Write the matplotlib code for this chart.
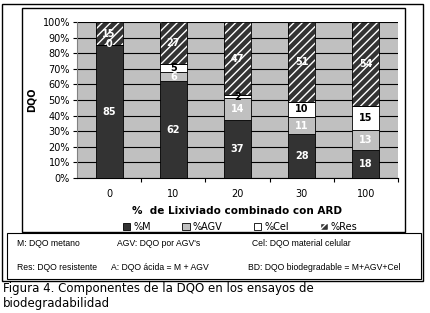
import matplotlib
matplotlib.use("Agg")
import matplotlib.pyplot as plt
import matplotlib.patches as mpatches
from matplotlib.patches import Rectangle

# data
cats = ["0", "10", "20", "30", "100"]
pct_m = [85, 62, 37, 28, 18]
pct_agv = [0, 6, 14, 11, 13]
pct_cel = [0, 5, 2, 10, 15]
pct_res = [15, 27, 47, 51, 54]
series_names = ["%M", "%AGV", "%Cel", "%Res"]
yticks = [0, 10, 20, 30, 40, 50, 60, 70, 80, 90, 100]

notes_row1 = ["M: DQO metano", "AGV: DQO por AGV's", "Cel: DQO material celular"]
notes_row2 = ["Res: DQO resistente", "A: DQO ácida = M + AGV", "BD: DQO biodegradable = M+AGV+Cel"]
caption = "Figura 4. Componentes de la DQO en los ensayos de\nbiodegradabilidad"

W, H = 430, 313
fig = plt.figure(figsize=(W / 100, H / 100), dpi=100)
plt.rcParams["font.family"] = "DejaVu Sans"

def fx(px):
    return px / W

def fy(py):
    return 1 - py / H

# frames
fig.patches.append(Rectangle((fx(2), fy(281)), fx(421), 277 / H,
                             transform=fig.transFigure, fill=False, ec="black", lw=1))
fig.patches.append(Rectangle((fx(22), fy(232)), fx(383), 224 / H,
                             transform=fig.transFigure, fill=False, ec="black", lw=1))
fig.patches.append(Rectangle((fx(7), fy(279)), fx(414), 46 / H,
                             transform=fig.transFigure, fill=False, ec="black", lw=0.8))

ax = fig.add_axes([fx(77), fy(178), fx(321), (178 - 22) / H])
ax.set_facecolor("#c0c0c0")
x = range(len(cats))
bw = 0.42

bottom = [0] * len(cats)
ax.bar(x, pct_m, bw, color="#333333", edgecolor="black", lw=0.6, zorder=3, label=series_names[0])
bottom = [b + v for b, v in zip(bottom, pct_m)]
ax.bar(x, pct_agv, bw, bottom=bottom, color="#c0c0c0", edgecolor="black", lw=0.6, zorder=3, label=series_names[1])
b_agv = bottom[:]
bottom = [b + v for b, v in zip(bottom, pct_agv)]
ax.bar(x, pct_cel, bw, bottom=bottom, color="white", edgecolor="black", lw=0.6, zorder=3, label=series_names[2])
b_cel = bottom[:]
bottom = [b + v for b, v in zip(bottom, pct_cel)]
ax.bar(x, pct_res, bw, bottom=bottom, color="#333333", edgecolor="white", hatch="////", lw=0, zorder=3)
ax.bar(x, pct_res, bw, bottom=bottom, fill=False, edgecolor="black", lw=0.6, zorder=4)
b_res = bottom[:]

handles, labels = ax.get_legend_handles_labels()
handles.append(mpatches.Patch(facecolor="#333333", edgecolor="white", hatch="////"))
labels.append(series_names[3])

# value labels
lab_kw = dict(ha="center", va="center", fontsize=7, fontweight="bold", zorder=5)
for i in x:
    ax.text(i, pct_m[i] / 2, str(pct_m[i]), color="white", **lab_kw)
    if i == 0:
        ax.text(i, b_agv[i] + 1, "0", color="white", **lab_kw)
    else:
        ax.text(i, b_agv[i] + pct_agv[i] / 2, str(pct_agv[i]), color="white", **lab_kw)
        ax.text(i, b_cel[i] + pct_cel[i] / 2, str(pct_cel[i]), color="black", **lab_kw)
    ax.text(i, b_res[i] + pct_res[i] / 2, str(pct_res[i]), color="white", **lab_kw)

ax.set_ylim(0, 100)
ax.set_xlim(-0.5, len(cats) - 0.5)
ax.set_yticks(yticks)
ax.set_yticklabels([f"{t}%" for t in yticks], fontsize=7)
ax.set_xticks([i + 0.5 for i in range(len(cats))], minor=False)
ax.set_xticklabels([])
ax.set_xticks(list(x), minor=True)
ax.set_xticklabels(cats, minor=True, fontsize=7)
ax.tick_params(axis="x", which="major", length=3, direction="out")
ax.tick_params(axis="x", which="minor", length=0, pad=8)
ax.tick_params(axis="y", length=3, pad=2)
ax.grid(axis="y", color="black", lw=0.8, zorder=1)
for s in ["top", "right"]:
    ax.spines[s].set_visible(False)
ax.spines["left"].set_color("#808080")
ax.spines["bottom"].set_color("black")
ax.set_ylabel("DQO", fontsize=7, fontweight="bold", labelpad=4)
ax.set_xlabel("%  de Lixiviado combinado con ARD", fontsize=7.5, fontweight="bold", labelpad=5)

fig.legend(handles, labels, loc="center", bbox_to_anchor=(fx(240), fy(227)), ncol=4,
           frameon=False, fontsize=7, handlelength=0.8, handleheight=0.8,
           handletextpad=0.3, columnspacing=3.2)

note_kw = dict(fontsize=6.2, va="center", family="Liberation Sans")
for t, px in zip(notes_row1, [17, 117, 252]):
    fig.text(fx(px), fy(243), t, **note_kw)
for t, px in zip(notes_row2, [17, 111, 248]):
    fig.text(fx(px), fy(268), t, **note_kw)

fig.text(fx(3), fy(282), caption, fontsize=8.5, va="top", ha="left", linespacing=1.2)

fig.savefig("out.png", dpi=100)
